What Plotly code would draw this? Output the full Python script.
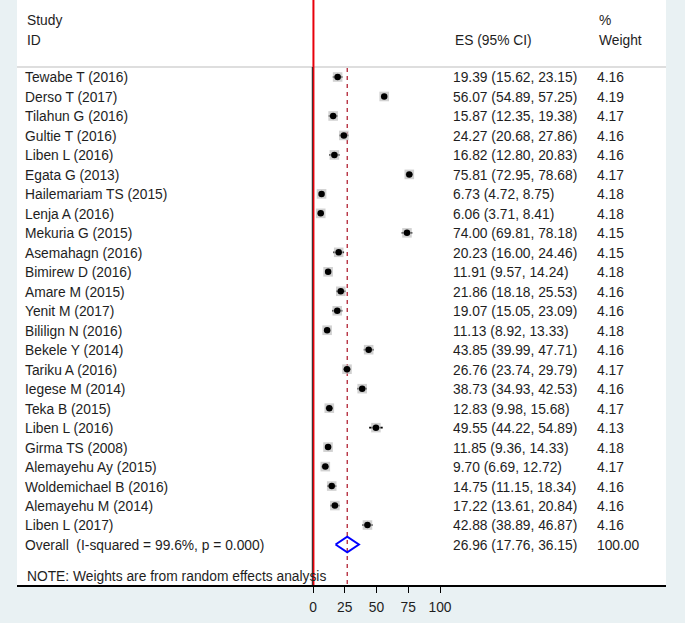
import plotly.graph_objects as go

studies = ["Tewabe T (2016)", "Derso T (2017)", "Tilahun G (2016)", "Gultie T (2016)",
           "Liben L (2016)", "Egata G (2013)", "Hailemariam TS (2015)", "Lenja A (2016)",
           "Mekuria G (2015)", "Asemahagn (2016)", "Bimirew D (2016)", "Amare M (2015)",
           "Yenit M (2017)", "Bililign N (2016)", "Bekele Y (2014)", "Tariku A (2016)",
           "Iegese M (2014)", "Teka B (2015)", "Liben L (2016)", "Girma TS (2008)",
           "Alemayehu Ay (2015)", "Woldemichael B (2016)", "Alemayehu M (2014)", "Liben L (2017)"]
es = [19.39, 56.07, 15.87, 24.27, 16.82, 75.81, 6.73, 6.06, 74.00, 20.23, 11.91, 21.86,
      19.07, 11.13, 43.85, 26.76, 38.73, 12.83, 49.55, 11.85, 9.70, 14.75, 17.22, 42.88]
lo = [15.62, 54.89, 12.35, 20.68, 12.80, 72.95, 4.72, 3.71, 69.81, 16.00, 9.57, 18.18,
      15.05, 8.92, 39.99, 23.74, 34.93, 9.98, 44.22, 9.36, 6.69, 11.15, 13.61, 38.89]
hi = [23.15, 57.25, 19.38, 27.86, 20.83, 78.68, 8.75, 8.41, 78.18, 24.46, 14.24, 25.53,
      23.09, 13.33, 47.71, 29.79, 42.53, 15.68, 54.89, 14.33, 12.72, 18.34, 20.84, 46.87]
weights = [4.16, 4.19, 4.17, 4.16, 4.16, 4.17, 4.18, 4.18, 4.15, 4.15, 4.18, 4.16,
           4.16, 4.18, 4.16, 4.17, 4.16, 4.17, 4.13, 4.18, 4.17, 4.16, 4.16, 4.16]
overall_label = "Overall\u00a0 (I-squared = 99.6%, p = 0.000)"
overall_es, overall_lo, overall_hi, overall_w = 26.96, 17.76, 36.15, 100.00
note = "NOTE: Weights are from random effects analysis"
xticks = [0, 25, 50, 75, 100]

W, H = 685, 623
px0, px100 = 313, 440
ppu = (px100 - px0) / 100.0
left_px, right_px, bottom_px = 17, 666, 585
xmin = -(px0 - left_px) / ppu
xmax = xmin + (right_px - left_px) / ppu
row0_px, row_step = 77, 19.48
ytop = -row0_px / row_step
ybot = (bottom_px - row0_px) / row_step

def pxx(p):
    return xmin + (p - left_px) / ppu

def pyy(p):
    return (p - row0_px) / row_step

n = len(studies)
rows = list(range(n))
overall_row = n
note_row = pyy(576)
text_shift = 2.0 / row_step

TXT = "#1e1e1e"
FONT = "Liberation Sans, Arial, sans-serif"
FS = 13.8

fig = go.Figure()

# CI lines
cx, cy = [], []
for r, a, b in zip(rows, lo, hi):
    cx += [a, b, None]
    cy += [r, r, None]
fig.add_trace(go.Scatter(x=cx, y=cy, mode="lines", line=dict(color="black", width=1.8),
                         hoverinfo="skip", showlegend=False))
# weight boxes
fig.add_trace(go.Scatter(x=es, y=rows, mode="markers",
                         marker=dict(symbol="square", size=[w * 2.3 for w in weights],
                                     color="#bdbdbd", line=dict(width=0)),
                         showlegend=False, hoverinfo="skip"))
# point estimates
fig.add_trace(go.Scatter(x=es, y=rows, mode="markers",
                         marker=dict(symbol="circle", size=6.5, color="black", line=dict(width=0)),
                         showlegend=False, hoverinfo="skip"))
# diamond
dh = 0.4
fig.add_trace(go.Scatter(x=[overall_lo, overall_es, overall_hi, overall_es, overall_lo],
                         y=[overall_row, overall_row - dh, overall_row, overall_row + dh, overall_row],
                         mode="lines", line=dict(color="#0000ff", width=2),
                         showlegend=False, hoverinfo="skip"))

# text columns
names_x = pxx(25)
es_x = pxx(453)
w_x = pxx(597)
labels = studies + [overall_label]
es_txt = ["%.2f (%.2f, %.2f)" % (e, a, b) for e, a, b in zip(es, lo, hi)] + \
         ["%.2f (%.2f, %.2f)" % (overall_es, overall_lo, overall_hi)]
w_txt = ["%.2f" % w for w in weights] + ["%.2f" % overall_w]
allrows = [r + text_shift for r in rows + [overall_row]]
for xpos, txt in [(names_x, labels), (es_x, es_txt), (w_x, w_txt)]:
    fig.add_trace(go.Scatter(x=[xpos] * len(txt), y=allrows, text=txt, mode="text",
                             textposition="middle right",
                             textfont=dict(family=FONT, size=FS, color=TXT),
                             showlegend=False, hoverinfo="skip"))

anns = [
    (names_x, pyy(20), "Study"), (names_x, pyy(40), "ID"),
    (es_x, pyy(40), "ES (95% CI)"), (w_x, pyy(20), "%"), (w_x, pyy(40), "Weight"),
    (names_x, note_row, note),
]
for x, y, t in anns:
    fig.add_annotation(x=x, y=y, text=t, showarrow=False, xanchor="left", yanchor="middle",
                       xref="x", yref="y", font=dict(family=FONT, size=FS, color=TXT))

shapes = [
    dict(type="line", xref="x domain", yref="y", x0=0, x1=1, y0=pyy(67), y1=pyy(67),
         line=dict(color="#bdbdbd", width=1.2), layer="below"),
    dict(type="line", xref="x", yref="y", x0=overall_es, x1=overall_es, y0=pyy(68), y1=ybot,
         line=dict(color="#b22234", width=1.3, dash="4px,4px"), layer="below"),
    dict(type="line", xref="x", yref="y", x0=0.35, x1=0.35, y0=ytop, y1=ybot,
         line=dict(color="#e8000b", width=2)),
    dict(type="line", xref="x", yref="y", x0=-0.55, x1=-0.55, y0=pyy(67), y1=ybot,
         line=dict(color="#202020", width=1)),
]
fig.update_layout(shapes=shapes)

fig.update_layout(
    width=W, height=H, margin=dict(l=0, r=0, t=0, b=0),
    paper_bgcolor="#e9f1f3", plot_bgcolor="white",
    xaxis=dict(domain=[left_px / W, right_px / W], range=[xmin, xmax], showgrid=False,
               zeroline=False, showline=True, linecolor="black", linewidth=1.5,
               tickmode="array", tickvals=xticks, ticks="outside", ticklen=6,
               tickcolor="black", tickwidth=1, ticklabelstandoff=3,
               tickfont=dict(family=FONT, size=FS, color=TXT), fixedrange=True),
    yaxis=dict(domain=[(H - bottom_px) / H, 1], range=[ybot, ytop], showgrid=False,
               zeroline=False, showticklabels=False, showline=False, fixedrange=True),
)

fig.write_html("out.html", config={"displayModeBar": False},
               post_script="document.body.style.margin='0';document.body.style.overflow='hidden';")
